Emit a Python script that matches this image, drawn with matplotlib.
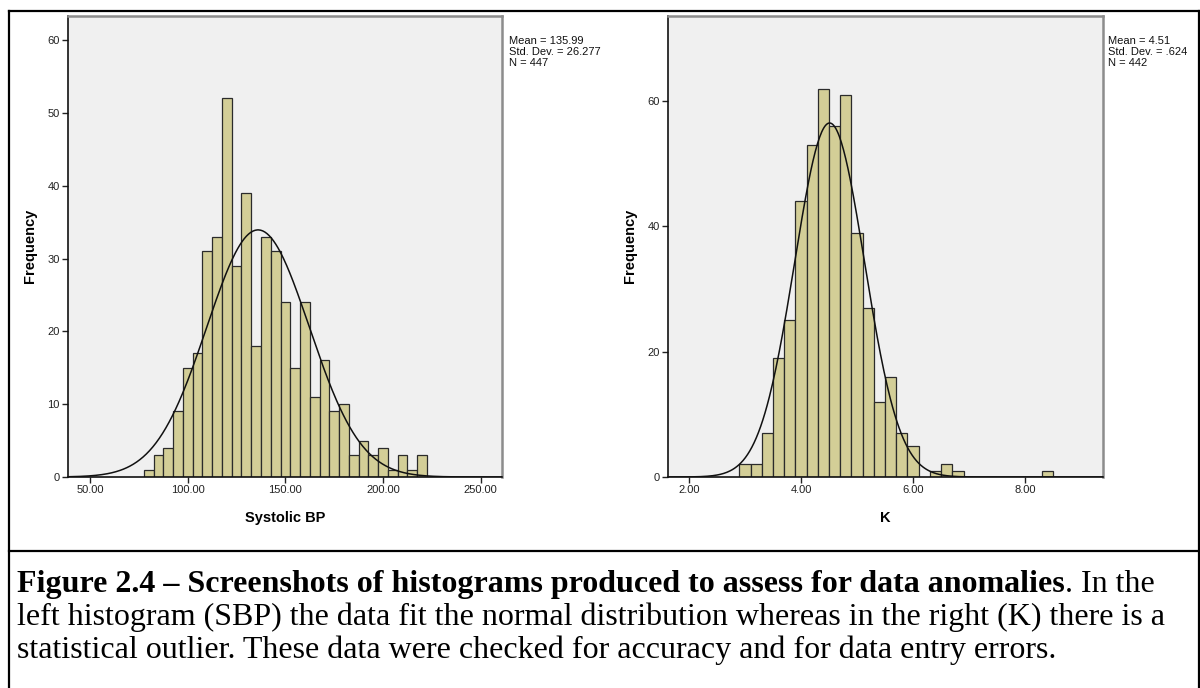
import numpy as np
import matplotlib.pyplot as plt
from matplotlib.lines import Line2D

# histogram counts (bin centres, counts) and summary stats
sbp_centers = [80, 85, 90, 95, 100, 105, 110, 115, 120, 125, 130, 135, 140, 145, 150,
               155, 160, 165, 170, 175, 180, 185, 190, 195, 200, 205, 210, 215, 220]
sbp_counts = [1, 3, 4, 9, 15, 17, 31, 33, 52, 29, 39, 18, 33, 31, 24,
              15, 24, 11, 16, 9, 10, 3, 5, 3, 4, 1, 3, 1, 3]
sbp_width = 5
sbp_mean, sbp_sd, sbp_n = 135.99, 26.277, 447
sbp_ticks = [50, 100, 150, 200, 250]

k_centers = [3.0, 3.2, 3.4, 3.6, 3.8, 4.0, 4.2, 4.4, 4.6, 4.8, 5.0, 5.2, 5.4, 5.6, 5.8,
             6.0, 6.4, 6.6, 6.8, 8.4]
k_counts = [2, 2, 7, 19, 25, 44, 53, 62, 56, 61, 39, 27, 12, 16, 7,
            5, 1, 2, 1, 1]
k_width = 0.2
k_mean, k_sd, k_n = 4.51, 0.624, 442
k_ticks = [2, 4, 6, 8]

W, H = 1200, 688
BAR = '#d3ce97'
SANS = 'Liberation Sans'

fig = plt.figure(figsize=(W / 100, H / 100), dpi=100)
fig.patch.set_facecolor('white')


def px_axes(x0, y0, x1, y1):
    return fig.add_axes([x0 / W, 1 - y1 / H, (x1 - x0) / W, (y1 - y0) / H])


def histo(ax, centers, counts, width, mean, sd, n, xlim, ylim, xticks, yticks, xlabel):
    ax.set_facecolor('#f0f0f0')
    ax.bar(centers, counts, width=width, color=BAR, edgecolor='#2b2b2b', linewidth=0.9,
           zorder=2)
    xs = np.linspace(xlim[0], xlim[1], 400)
    ys = n * width * np.exp(-0.5 * ((xs - mean) / sd) ** 2) / (sd * np.sqrt(2 * np.pi))
    ax.plot(xs, ys, color='#111111', linewidth=1.1, zorder=3)
    ax.set_xlim(*xlim)
    ax.set_ylim(*ylim)
    ax.set_xticks(xticks)
    ax.set_xticklabels([f'{t:.2f}' for t in xticks])
    ax.set_yticks(yticks)
    ax.tick_params(direction='out', length=4, width=1, labelsize=8, colors='#222222',
                   pad=2)
    for lab in ax.get_xticklabels() + ax.get_yticklabels():
        lab.set_family(SANS)
    for side in ('left', 'bottom'):
        ax.spines[side].set_color('#111111')
        ax.spines[side].set_linewidth(1.2)
    for side in ('top', 'right'):
        ax.spines[side].set_color('#8c8c8c')
        ax.spines[side].set_linewidth(1.8)
    ax.set_xlabel(xlabel, fontsize=10.5, fontweight='bold', family=SANS, labelpad=11)


ax1 = px_axes(68, 16, 502, 477)
histo(ax1, sbp_centers, sbp_counts, sbp_width, sbp_mean, sbp_sd, sbp_n,
      (38.6, 261.0), (0, 63.3), sbp_ticks, [0, 10, 20, 30, 40, 50, 60], 'Systolic BP')

ax2 = px_axes(668, 16, 1103, 477)
histo(ax2, k_centers, k_counts, k_width, k_mean, k_sd, k_n,
      (1.625, 9.39), (0, 73.6), k_ticks, [0, 20, 40, 60], 'K')

# y labels
fig.text(30 / W, 1 - 246 / H, 'Frequency', rotation=90, ha='center', va='center',
         fontsize=10.5, fontweight='bold', family=SANS)
fig.text(630 / W, 1 - 246 / H, 'Frequency', rotation=90, ha='center', va='center',
         fontsize=10.5, fontweight='bold', family=SANS)

# stats boxes
fig.text(509 / W, 1 - 36 / H,
         f'Mean = {sbp_mean:.2f}\nStd. Dev. = {sbp_sd:.3f}\nN = {sbp_n}',
         ha='left', va='top', fontsize=8, family=SANS, linespacing=1.12, color='#111111')
fig.text(1108 / W, 1 - 36 / H,
         f'Mean = {k_mean:.2f}\nStd. Dev. = {k_sd:.3f}'.replace('0.624', '.624') + f'\nN = {k_n}',
         ha='left', va='top', fontsize=8, family=SANS, linespacing=1.12, color='#111111')

# table borders around the figure cell and caption cell
for xs, ys in [((9, 9), (11, H)), ((9, W), (11, 11)), ((9, W), (551, 551)),
               ((1199, 1199), (11, H))]:
    fig.add_artist(Line2D([x / W for x in xs], [1 - y / H for y in ys],
                          color='black', linewidth=1.6))

# caption
SERIF = 'Liberation Serif'
cap_size = 23
x0 = 17 / W
bold = fig.text(x0, 1 - 592 / H,
                'Figure 2.4 \u2013 Screenshots of histograms produced to assess for data anomalies',
                ha='left', va='baseline', fontsize=cap_size, fontweight='bold', family=SERIF)
fig.canvas.draw()
bb = bold.get_window_extent(fig.canvas.get_renderer())
fig.text(bb.x1 / W, 1 - 592 / H, '. In the', ha='left', va='baseline',
         fontsize=cap_size, family=SERIF)
fig.text(x0, 1 - 625 / H,
         'left histogram (SBP) the data fit the normal distribution whereas in the right (K) there is a',
         ha='left', va='baseline', fontsize=cap_size, family=SERIF)
fig.text(x0, 1 - 658 / H,
         'statistical outlier. These data were checked for accuracy and for data entry errors.',
         ha='left', va='baseline', fontsize=cap_size, family=SERIF)

fig.savefig('out.png', dpi=100)
